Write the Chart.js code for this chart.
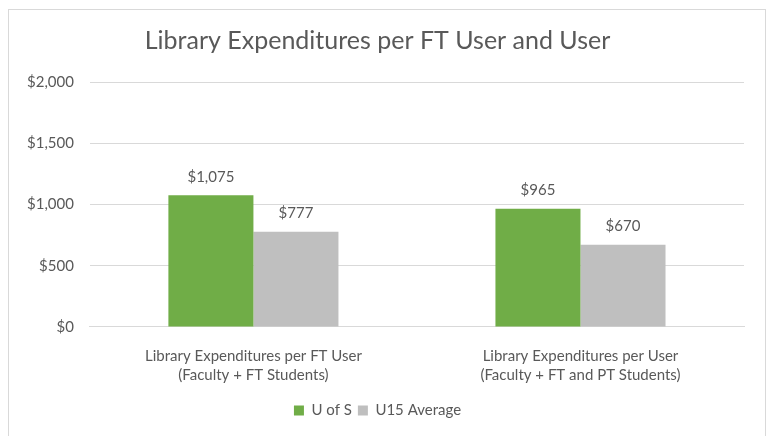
<!DOCTYPE html>
<html>
<head>
<meta charset="utf-8">
<script src="https://cdn.jsdelivr.net/npm/chart.js@4/dist/chart.umd.min.js"></script>
<style>
  body { margin: 0; background: #fff; }
  #frame {
    position: absolute; left: 8px; top: 9px;
    width: 758px; height: 440px;
    border: 1px solid #d9d9d9; box-sizing: border-box;
  }
</style>
</head>
<body>
<div id="frame"><canvas id="chart" width="756" height="438"></canvas></div>
<script>
// chart data
const categories = [
  ["Library Expenditures per FT User", "(Faculty + FT Students)"],
  ["Library Expenditures per User", "(Faculty + FT and PT Students)"]
];
const uofsValues = [1075, 965];
const u15Values = [777, 670];
const seriesNames = ["U of S", "U15 Average"];

const textColor = "#595959";
const fontFamily = "Lato, 'Open Sans', sans-serif";

function money(v) {
  return "$" + v.toLocaleString("en-US");
}

// draws the value above each bar
const barLabels = {
  id: "barLabels",
  afterDatasetsDraw(chart) {
    const ctx = chart.ctx;
    ctx.save();
    ctx.font = "15px " + fontFamily;
    ctx.fillStyle = textColor;
    ctx.textAlign = "center";
    ctx.textBaseline = "bottom";
    chart.data.datasets.forEach((ds, i) => {
      chart.getDatasetMeta(i).data.forEach((bar, j) => {
        ctx.fillText(money(ds.data[j]), bar.x, bar.y - 11);
      });
    });
    ctx.restore();
  }
};

new Chart(document.getElementById("chart"), {
  type: "bar",
  data: {
    labels: categories,
    datasets: [
      {
        label: seriesNames[0],
        data: uofsValues,
        backgroundColor: "#70ad47",
        barPercentage: 1,
        categoryPercentage: 0.52
      },
      {
        label: seriesNames[1],
        data: u15Values,
        backgroundColor: "#bfbfbf",
        barPercentage: 1,
        categoryPercentage: 0.52
      }
    ]
  },
  plugins: [barLabels],
  options: {
    responsive: false,
    animation: false,
    layout: { padding: { left: 2, right: 21, top: 0, bottom: 20 } },
    plugins: {
      title: {
        display: true,
        text: "Library Expenditures per FT User and User",
        color: textColor,
        font: { family: fontFamily, size: 25, weight: "normal" },
        padding: { top: 16, bottom: 26 }
      },
      legend: {
        position: "bottom",
        labels: {
          color: textColor,
          font: { family: fontFamily, size: 15 },
          boxWidth: 10,
          boxHeight: 10,
          padding: 6
        }
      },
      tooltip: { enabled: false }
    },
    scales: {
      x: {
        grid: { display: false },
        border: { color: "#d9d9d9" },
        ticks: {
          color: textColor,
          font: { family: fontFamily, size: 15, lineHeight: 1.27 },
          padding: 12,
          maxRotation: 0
        }
      },
      y: {
        min: 0,
        max: 2000,
        border: { display: false },
        grid: { color: "#d9d9d9", drawTicks: false },
        ticks: {
          stepSize: 500,
          color: textColor,
          font: { family: fontFamily, size: 15 },
          padding: 16,
          callback: v => money(v)
        }
      }
    }
  }
});
</script>
</body>
</html>
